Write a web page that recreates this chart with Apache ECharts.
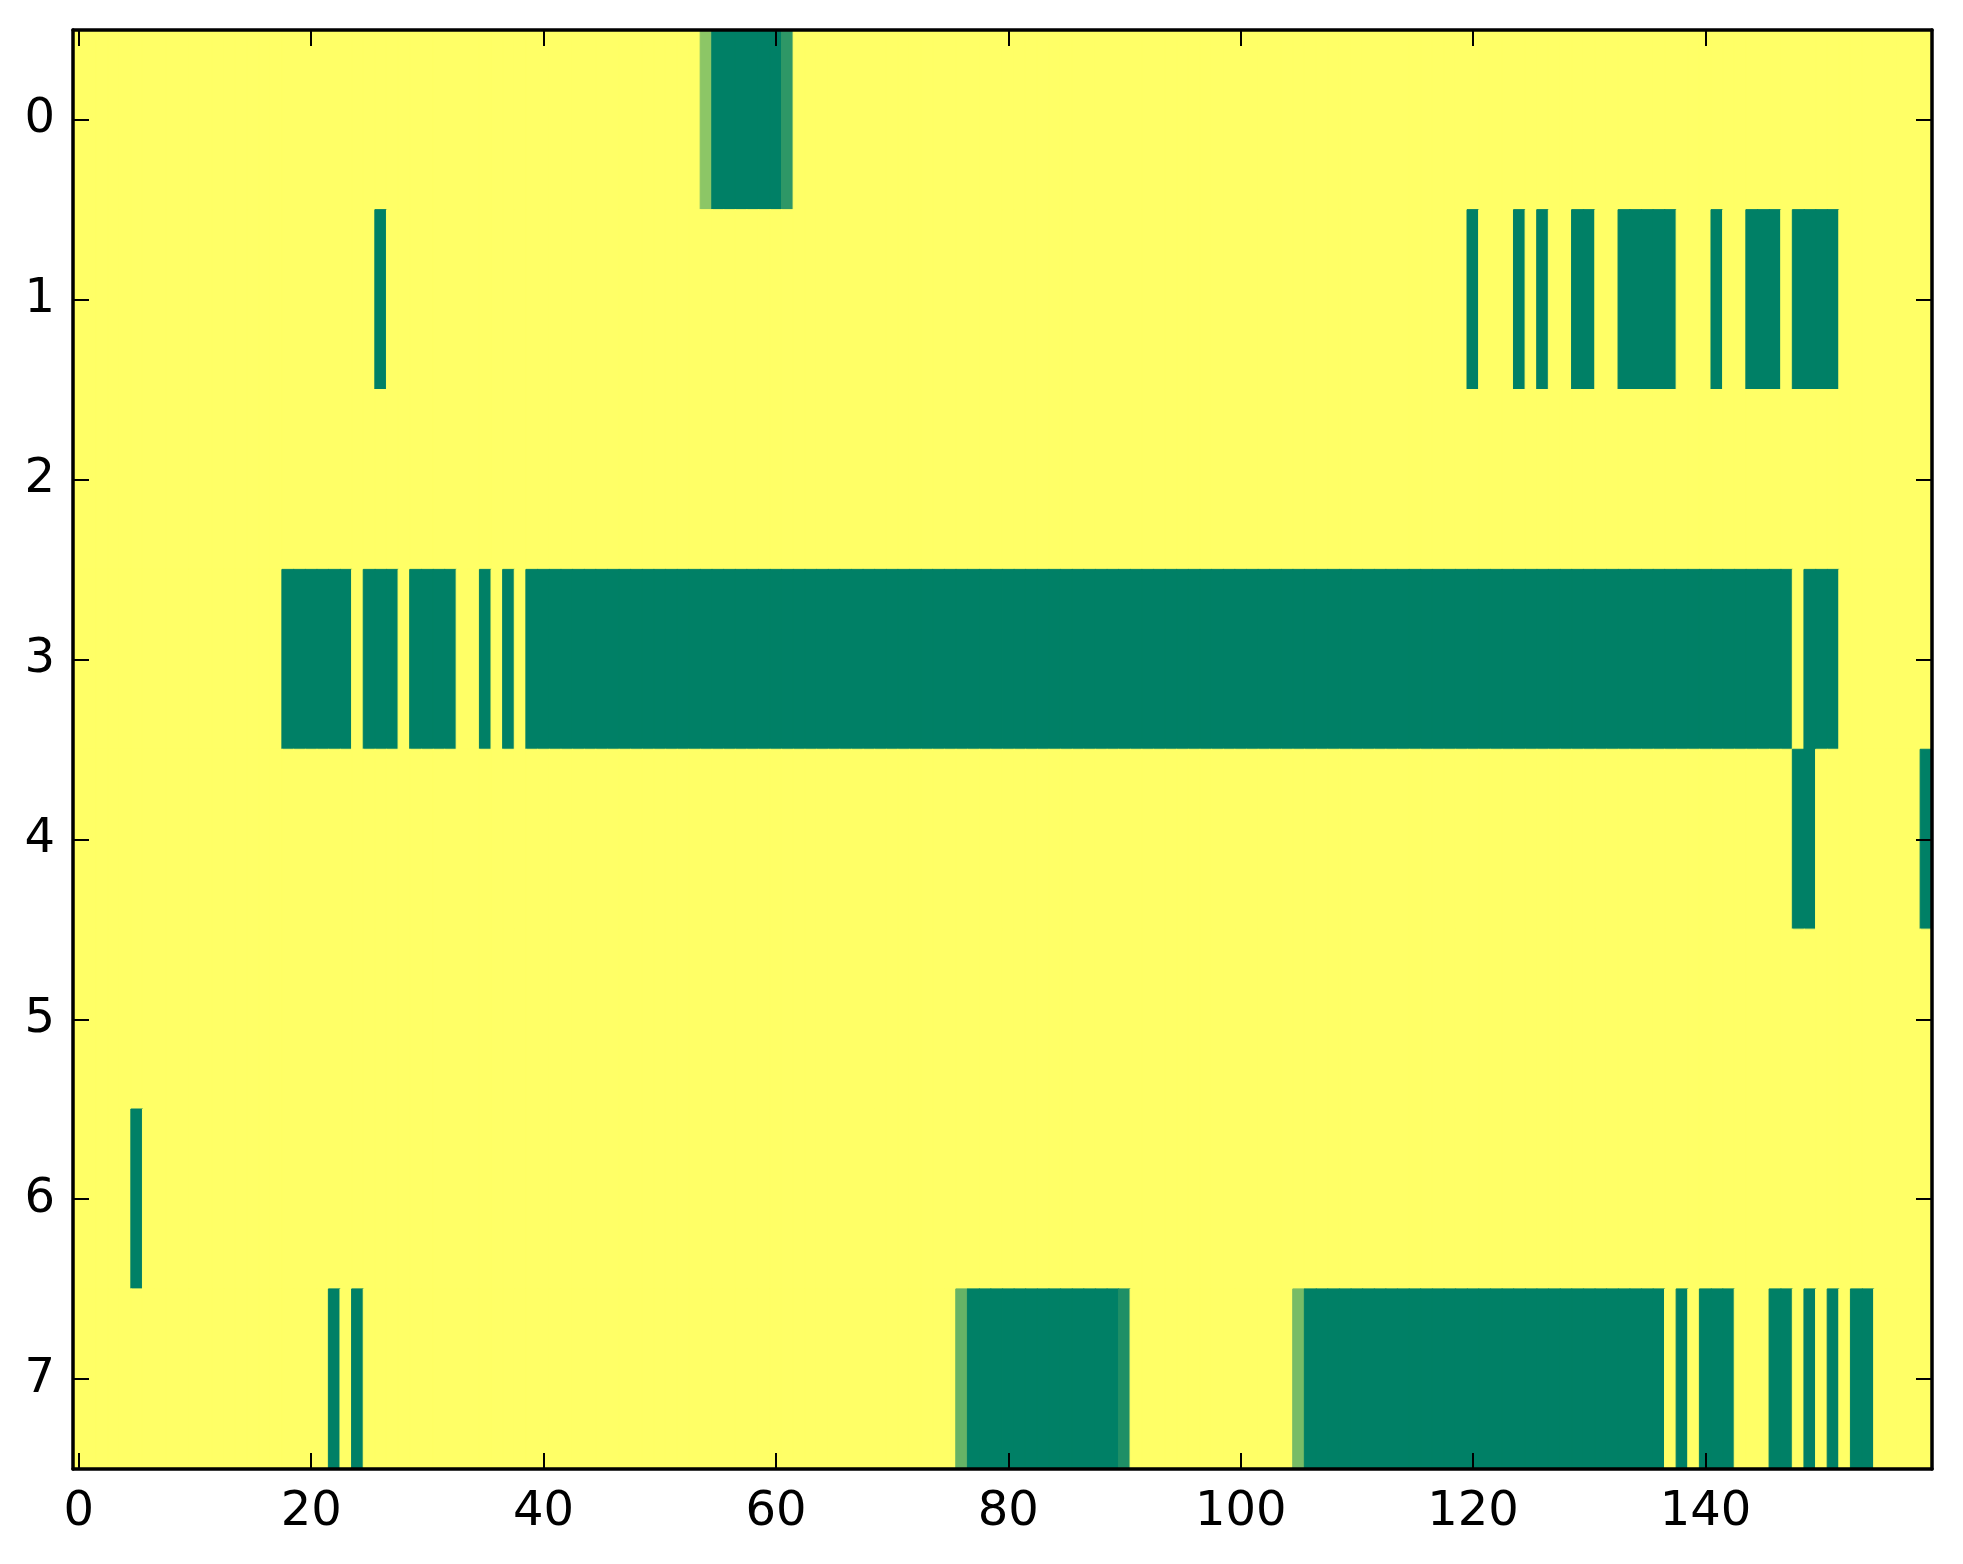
<!DOCTYPE html>
<html>
<head>
<meta charset="utf-8">
<script src="https://cdn.jsdelivr.net/npm/echarts@6/dist/echarts.min.js"></script>
<style>
html,body{margin:0;padding:0;background:#fff;}
#chart{width:1963px;height:1564px;}
</style>
</head>
<body>
<div id="chart"></div>
<script>
// one array per row, 160 columns each (0 = yellow, 1 = dark green)
var row0 = [
	0,0,0,0,0,0,0,0,0,0,0,0,0,0,0,0,0,0,0,0,
	0,0,0,0,0,0,0,0,0,0,0,0,0,0,0,0,0,0,0,0,
	0,0,0,0,0,0,0,0,0,0,0,0,0,0,0.45,1,1,1,1,1,
	1,0.82,0,0,0,0,0,0,0,0,0,0,0,0,0,0,0,0,0,0,
	0,0,0,0,0,0,0,0,0,0,0,0,0,0,0,0,0,0,0,0,
	0,0,0,0,0,0,0,0,0,0,0,0,0,0,0,0,0,0,0,0,
	0,0,0,0,0,0,0,0,0,0,0,0,0,0,0,0,0,0,0,0,
	0,0,0,0,0,0,0,0,0,0,0,0,0,0,0,0,0,0,0,0
];
var row1 = [
	0,0,0,0,0,0,0,0,0,0,0,0,0,0,0,0,0,0,0,0,
	0,0,0,0,0,0,1,0,0,0,0,0,0,0,0,0,0,0,0,0,
	0,0,0,0,0,0,0,0,0,0,0,0,0,0,0,0,0,0,0,0,
	0,0,0,0,0,0,0,0,0,0,0,0,0,0,0,0,0,0,0,0,
	0,0,0,0,0,0,0,0,0,0,0,0,0,0,0,0,0,0,0,0,
	0,0,0,0,0,0,0,0,0,0,0,0,0,0,0,0,0,0,0,0,
	1,0,0,0,1,0,1,0,0,1,1,0,0,1,1,1,1,1,0,0,
	0,1,0,0,1,1,1,0,1,1,1,1,0,0,0,0,0,0,0,0
];
var row2 = [
	0,0,0,0,0,0,0,0,0,0,0,0,0,0,0,0,0,0,0,0,
	0,0,0,0,0,0,0,0,0,0,0,0,0,0,0,0,0,0,0,0,
	0,0,0,0,0,0,0,0,0,0,0,0,0,0,0,0,0,0,0,0,
	0,0,0,0,0,0,0,0,0,0,0,0,0,0,0,0,0,0,0,0,
	0,0,0,0,0,0,0,0,0,0,0,0,0,0,0,0,0,0,0,0,
	0,0,0,0,0,0,0,0,0,0,0,0,0,0,0,0,0,0,0,0,
	0,0,0,0,0,0,0,0,0,0,0,0,0,0,0,0,0,0,0,0,
	0,0,0,0,0,0,0,0,0,0,0,0,0,0,0,0,0,0,0,0
];
var row3 = [
	0,0,0,0,0,0,0,0,0,0,0,0,0,0,0,0,0,0,1,1,
	1,1,1,1,0,1,1,1,0,1,1,1,1,0,0,1,0,1,0,1,
	1,1,1,1,1,1,1,1,1,1,1,1,1,1,1,1,1,1,1,1,
	1,1,1,1,1,1,1,1,1,1,1,1,1,1,1,1,1,1,1,1,
	1,1,1,1,1,1,1,1,1,1,1,1,1,1,1,1,1,1,1,1,
	1,1,1,1,1,1,1,1,1,1,1,1,1,1,1,1,1,1,1,1,
	1,1,1,1,1,1,1,1,1,1,1,1,1,1,1,1,1,1,1,1,
	1,1,1,1,1,1,1,1,0,1,1,1,0,0,0,0,0,0,0,0
];
var row4 = [
	0,0,0,0,0,0,0,0,0,0,0,0,0,0,0,0,0,0,0,0,
	0,0,0,0,0,0,0,0,0,0,0,0,0,0,0,0,0,0,0,0,
	0,0,0,0,0,0,0,0,0,0,0,0,0,0,0,0,0,0,0,0,
	0,0,0,0,0,0,0,0,0,0,0,0,0,0,0,0,0,0,0,0,
	0,0,0,0,0,0,0,0,0,0,0,0,0,0,0,0,0,0,0,0,
	0,0,0,0,0,0,0,0,0,0,0,0,0,0,0,0,0,0,0,0,
	0,0,0,0,0,0,0,0,0,0,0,0,0,0,0,0,0,0,0,0,
	0,0,0,0,0,0,0,0,1,1,0,0,0,0,0,0,0,0,0,1
];
var row5 = [
	0,0,0,0,0,0,0,0,0,0,0,0,0,0,0,0,0,0,0,0,
	0,0,0,0,0,0,0,0,0,0,0,0,0,0,0,0,0,0,0,0,
	0,0,0,0,0,0,0,0,0,0,0,0,0,0,0,0,0,0,0,0,
	0,0,0,0,0,0,0,0,0,0,0,0,0,0,0,0,0,0,0,0,
	0,0,0,0,0,0,0,0,0,0,0,0,0,0,0,0,0,0,0,0,
	0,0,0,0,0,0,0,0,0,0,0,0,0,0,0,0,0,0,0,0,
	0,0,0,0,0,0,0,0,0,0,0,0,0,0,0,0,0,0,0,0,
	0,0,0,0,0,0,0,0,0,0,0,0,0,0,0,0,0,0,0,0
];
var row6 = [
	0,0,0,0,0,1,0,0,0,0,0,0,0,0,0,0,0,0,0,0,
	0,0,0,0,0,0,0,0,0,0,0,0,0,0,0,0,0,0,0,0,
	0,0,0,0,0,0,0,0,0,0,0,0,0,0,0,0,0,0,0,0,
	0,0,0,0,0,0,0,0,0,0,0,0,0,0,0,0,0,0,0,0,
	0,0,0,0,0,0,0,0,0,0,0,0,0,0,0,0,0,0,0,0,
	0,0,0,0,0,0,0,0,0,0,0,0,0,0,0,0,0,0,0,0,
	0,0,0,0,0,0,0,0,0,0,0,0,0,0,0,0,0,0,0,0,
	0,0,0,0,0,0,0,0,0,0,0,0,0,0,0,0,0,0,0,0
];
var row7 = [
	0,0,0,0,0,0,0,0,0,0,0,0,0,0,0,0,0,0,0,0,
	0,0,1,0,1,0,0,0,0,0,0,0,0,0,0,0,0,0,0,0,
	0,0,0,0,0,0,0,0,0,0,0,0,0,0,0,0,0,0,0,0,
	0,0,0,0,0,0,0,0,0,0,0,0,0,0,0,0,0.6,1,1,1,
	1,1,1,1,1,1,1,1,1,1,0.88,0,0,0,0,0,0,0,0,0,
	0,0,0,0,0,0.53,1,1,1,1,1,1,1,1,1,1,1,1,1,1,
	1,1,1,1,1,1,1,1,1,1,1,1,1,1,1,1,1,0,1,0,
	1,1,1,0,0,0,1,1,0,1,0,1,0,1,1,0,0,0,0,0
];
var rows = [row0,row1,row2,row3,row4,row5,row6,row7];
var rowLabels = ['0','1','2','3','4','5','6','7'];
var colLabels = [];
for(var c=0;c<160;c++){ colLabels.push(String(c)); }

// summer_r ends: yellow -> green
var lowRGB = [255,255,102];
var highRGB = [0,128,102];
function mix(v){
	var r = Math.round(lowRGB[0] + (highRGB[0]-lowRGB[0])*v);
	var g = Math.round(lowRGB[1] + (highRGB[1]-lowRGB[1])*v);
	var b = Math.round(lowRGB[2] + (highRGB[2]-lowRGB[2])*v);
	return 'rgb('+r+','+g+','+b+')';
}

var cells = [];
for(var r=0;r<rows.length;r++){
	for(var j=0;j<rows[r].length;j++){
		// border in the cell's own colour hides the seams between cells
		cells.push({value:[j, r, rows[r][j]], itemStyle:{borderColor:mix(rows[r][j]), borderWidth:1}});
	}
}

var font = {fontFamily:'DejaVu Sans', fontSize:48, color:'#000'};
var axLine = {show:true, onZero:false, lineStyle:{color:'#000', width:3.5}};
var tickStyle = {color:'#000', width:2};
var every20 = function(i){ return i % 20 === 0; };

var chart = echarts.init(document.getElementById('chart'));
var option = {
	animation:false,
	backgroundColor:'#fff',
	grid:{left:73, right:31, top:30, bottom:95},
	visualMap:{
		show:false,
		type:'continuous',
		min:0,
		max:1,
		dimension:2,
		inRange:{color:['#ffff66','#008066']}
	},
	xAxis:[
		{
			type:'category', data:colLabels, position:'bottom', z:10,
			axisLine:axLine,
			axisTick:{show:true, inside:true, length:16, alignWithLabel:true, interval:every20, lineStyle:tickStyle},
			axisLabel:{show:true, interval:every20, margin:20, fontFamily:font.fontFamily, fontSize:font.fontSize, color:font.color},
			splitLine:{show:false}
		},
		{
			type:'category', data:colLabels, position:'top', z:10,
			axisLine:axLine,
			axisTick:{show:true, inside:true, length:16, alignWithLabel:true, interval:every20, lineStyle:tickStyle},
			axisLabel:{show:false},
			splitLine:{show:false}
		}
	],
	yAxis:[
		{
			type:'category', data:rowLabels, inverse:true, position:'left', z:10,
			axisLine:axLine,
			axisTick:{show:true, inside:true, length:16, alignWithLabel:true, lineStyle:tickStyle},
			axisLabel:{show:true, margin:18, fontFamily:font.fontFamily, fontSize:font.fontSize, color:font.color},
			splitLine:{show:false}
		},
		{
			type:'category', data:rowLabels, inverse:true, position:'right', z:10,
			axisLine:axLine,
			axisTick:{show:true, inside:true, length:16, alignWithLabel:true, lineStyle:tickStyle},
			axisLabel:{show:false},
			splitLine:{show:false}
		}
	],
	series:[
		{
			type:'heatmap',
			xAxisIndex:0,
			yAxisIndex:0,
			data:cells,
			emphasis:{disabled:true},
			progressive:0
		}
	]
};
chart.setOption(option);
</script>
</body>
</html>
